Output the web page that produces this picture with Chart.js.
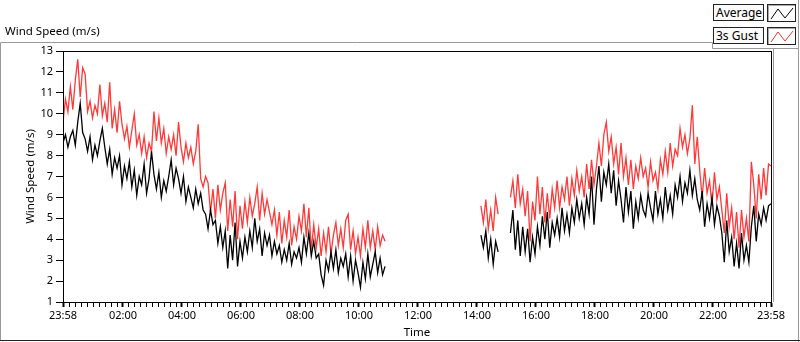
<!DOCTYPE html>
<html>
<head>
<meta charset="utf-8">
<script src="https://cdn.jsdelivr.net/npm/chart.js@4.4.1/dist/chart.umd.min.js"></script>
<style>
  html, body { margin: 0; padding: 0; background: #fff; }
  #wrap { position: relative; width: 800px; height: 342px; overflow: hidden; font-family: 'Noto Sans', 'Open Sans', sans-serif; }
  #c { position: absolute; left: 0; top: 0; }
  .title { position: absolute; left: 5px; top: 24px; font-size: 11.5px; line-height: 14px; color: #000; }
  .lbl { position: absolute; left: 713px; width: 47px; height: 15px; border: 1px solid #222; background: #fbfbfb; font-size: 12px; line-height: 15px; padding-left: 2px; color: #000; box-sizing: content-box; }
  .ico { position: absolute; left: 767px; width: 27px; height: 16px; border: 1px solid #222; background: #fff; box-shadow: inset 1px 1px 0 #aaa; }
  .ico svg { position: absolute; left: 1px; top: 1px; }
</style>
</head>
<body>
<div id="wrap">
  <canvas id="c" width="800" height="342"></canvas>
  <div class="title">Wind Speed (m/s)</div>
  <div class="lbl" style="top:4px;">Average</div>
  <div class="ico" style="top:4px;"><svg width="26" height="15"><polyline points="2,13 9,3 16,12 24,2" fill="none" stroke="#000" stroke-width="1"/></svg></div>
  <div class="lbl" style="top:27px;">3s Gust</div>
  <div class="ico" style="top:27px;"><svg width="26" height="15"><polyline points="2,13 9,3 16,12 24,2" fill="none" stroke="#ff3030" stroke-width="1"/></svg></div>
</div>
<script>
// ---- Data (minutes relative to 00:00, 5-minute samples) ----
const stepMinutes = 5;
const axisMinMinutes = -2;     // 23:58 previous day
const axisMaxMinutes = 1438;   // 23:58

const seg1Start = -2;
const avgSeg1 = [8.6,9.0,8.4,8.9,9.2,8.5, 9.6,10.5,9.1,8.8, 8.2,8.9,7.8,8.5,8.0,8.7, 9.3,8.4, 7.6,8.3,7.1,7.9,
  7.4,8.0,6.6,7.5,6.9,7.7, 6.5,7.3,6.1,7.0,6.6,7.6,6.2,6.9, 8.2,7.1, 6.4,7.2,6.0,6.8,6.3,7.0, 7.8,6.6,7.4,6.9,
  6.2,7.0,5.8,6.5, 6.0,5.5,6.4,5.7,6.2,5.4, 5.2,4.5,5.4,4.7, 4.9,3.8,4.6,3.6,4.4, 2.6,4.2,3.0,4.8, 2.7,3.9,3.1,4.1,
  3.4,4.4,3.6,5.0,3.9,4.5,3.2,4.3,3.7, 4.2,3.2,3.9,3.3, 3.7,2.9,3.5,3.0,3.8,2.8,3.4,3.1,3.6,2.9,
  4.1,3.3,4.3,3.2,3.9,3.1, 3.3,2.3,1.8,3.0, 2.5,3.4,2.6,3.5,2.4,3.1,2.7,3.3,
  2.2,3.2,2.0,3.0,2.4,1.7,2.9,2.1,3.3,2.2,2.8, 3.4,2.4,3.1,2.3,2.7];
const gustSeg1 = [9.6,10.7,10.1, 11.3,10.2,11.6, 12.6, 10.8,12.2,11.9, 10.1,10.6,9.8,10.4,10.0, 11.4, 9.9,10.5,9.6, 11.5,
  9.3,10.2,9.1,10.6,9.5, 8.8,9.4,8.4,9.2,10.0,8.5,9.0, 8.1,8.9,7.9,8.6,8.2,10.1, 8.7,9.8,8.6,9.3,
  8.1,8.9,8.3,9.0,8.0,9.6,8.4, 7.7,8.6,7.9,8.4,7.6,8.2, 9.5, 6.9,6.5,7.0, 6.7,5.3,6.4,5.0,6.6,5.4,6.2,
  6.7,4.4,5.9,4.6, 6.3,4.0,5.6,4.5, 5.8,4.8,6.0,5.1,5.7,6.5,4.9,6.2,5.2,5.9, 5.3,4.7,5.4,
  4.2,5.3,3.8,4.9,4.1,5.4,3.7,4.6,4.0,5.1,4.4, 5.7, 4.1,5.5,3.5,4.7, 3.6,4.5,3.2,4.3,3.4,4.6,3.3,4.2,
  4.8,3.7,4.5,3.6,4.9, 5.2, 3.5,4.4,3.3,4.1,3.2,4.5,3.6, 4.9, 3.6,4.4,3.5,4.6,3.7,4.2,3.9];

const seg2Start = 848;
const avgSeg2 = [4.2,3.6,4.4,3.1,4.0,2.8,3.9,3.4];
const gustSeg2 = [5.6,4.8,5.9,4.5,5.4,4.4,6.0,5.2];

const seg3Start = 908;
const avgSeg3 = [4.3,5.4,3.5,4.9,3.2,4.6, 3.4,4.5,2.9,4.1,3.3,4.6, 3.7,5.1,4.0,5.3,3.6,4.8,4.2, 5.0,4.1,5.5,4.4,5.2,4.3,
  5.5,4.8,5.9,5.0,5.7,4.7, 6.0,5.2,7.0,4.7,6.4, 7.5,5.8,7.2,6.6,7.6, 6.2,7.3,5.6,6.8,5.9,4.8,6.5,
  5.3,6.3,4.5,5.8,5.0,6.1,5.4, 5.1,6.2,5.5,4.9,6.3,5.2,5.9,5.0, 6.5,5.4,6.1,5.2,6.6, 6.0,7.0,5.8,6.7,6.2,
  7.3,6.1,6.9,5.9, 5.4,6.3,4.6,5.7, 5.0,6.0,4.7,5.6,5.1, 4.3,2.9,4.9,3.4,4.1, 2.7,3.8,2.6,4.3,3.0,3.7,2.9,
  4.6,5.6,3.9,5.2, 4.7,5.5,4.9,5.6,5.7];
const gustSeg3 = [6.0,6.8,5.5,7.1,5.7,6.4, 5.1,6.3,3.9,5.8,4.9,7.0, 5.2,6.5,4.8,6.2,5.0,6.4,5.5, 6.8,5.5,6.5,5.9,7.0,5.6,
  6.9,6.1,7.3,6.3,7.0,6.0, 7.6,6.4,7.8,6.6,7.5, 8.6,7.5,9.0,9.6,8.2, 8.9,7.6,8.4,7.1,8.6,7.0,7.9,
  6.6,7.8,6.4,7.5,6.9,7.9,7.0, 7.4,6.5,7.7,6.8,7.2,6.4,7.8,7.1, 8.2,7.2,8.6,7.5,8.3, 8.0,9.3,8.4,9.0,8.1,
  8.8,10.4,7.6,8.9, 7.3,6.0,7.4,6.2, 6.8,5.6,7.2,5.9,6.5, 5.4,4.3,6.2,4.6,5.5, 4.0,5.3,3.6,5.4,4.1,5.0,3.9,
  7.7,6.6,5.0,7.1, 5.9,7.4,6.1,7.6,7.5];

const yTickMin = 1, yTickMax = 13, yTickStep = 1;
const majorTickMinutes = [-2,120,240,360,480,600,720,840,960,1080,1200,1320,1438];
const majorTickLabels = ['23:58','02:00','04:00','06:00','08:00','10:00','12:00','14:00','16:00','18:00','20:00','22:00','23:58'];
const minorTickStepMinutes = 12;

// ---- Build points ----
function segPoints(start, arr) {
  return arr.map((v, i) => ({ x: start + i * stepMinutes, y: v }));
}
function series(segs) {
  const out = [];
  segs.forEach((s, k) => {
    const pts = segPoints(s[0], s[1]);
    out.push(...pts);
    if (k < segs.length - 1) out.push({ x: pts[pts.length - 1].x + 1, y: null });
  });
  return out;
}
const avgData = series([[seg1Start, avgSeg1], [seg2Start, avgSeg2], [seg3Start, avgSeg3]]);
const gustData = series([[seg1Start, gustSeg1], [seg2Start, gustSeg2], [seg3Start, gustSeg3]]);

const labelMap = {};
majorTickMinutes.forEach((m, i) => labelMap[m] = majorTickLabels[i]);

const framePlugin = {
  id: 'frame',
  beforeDraw(chart) {
    const ctx = chart.ctx;
    ctx.save();
    ctx.lineWidth = 1;
    ctx.strokeStyle = '#9a9a9a';
    ctx.beginPath();
    ctx.moveTo(0.5, 341); ctx.lineTo(0.5, 42.5); ctx.lineTo(712.5, 42.5); ctx.lineTo(712.5, 48.5); ctx.lineTo(798.5, 48.5);
    ctx.moveTo(798.5, 0); ctx.lineTo(798.5, 342);
    ctx.moveTo(773.5, 48.5); ctx.lineTo(773.5, 302);
    ctx.stroke();
    ctx.strokeStyle = '#222';
    ctx.beginPath();
    ctx.moveTo(0, 340.5); ctx.lineTo(800, 340.5);
    ctx.stroke();
    ctx.restore();
  },
  afterDraw(chart) {
    const a = chart.chartArea;
    const ctx = chart.ctx;
    ctx.save();
    ctx.strokeStyle = '#000';
    ctx.lineWidth = 1;
    ctx.strokeRect(Math.round(a.left) + 0.5, Math.round(a.top) + 0.5, Math.round(a.right - a.left), Math.round(a.bottom - a.top));
    ctx.restore();
  }
};

Chart.defaults.font.family = "'Noto Sans', 'Open Sans', sans-serif";
Chart.defaults.color = '#000';

new Chart(document.getElementById('c'), {
  type: 'line',
  data: {
    datasets: [
      { label: 'Average', data: avgData, borderColor: '#000000', borderWidth: 1.3, pointRadius: 0, tension: 0, spanGaps: false, order: 0 },
      { label: '3s Gust', data: gustData, borderColor: '#ff3838', borderWidth: 1.3, pointRadius: 0, tension: 0, spanGaps: false, order: 1 }
    ]
  },
  options: {
    responsive: false,
    animation: false,
    events: [],
    layout: { padding: { left: 0, right: 29, top: 51, bottom: 0 } },
    plugins: { legend: { display: false }, tooltip: { enabled: false }, title: { display: false } },
    scales: {
      x: {
        type: 'linear',
        min: axisMinMinutes,
        max: axisMaxMinutes,
        afterFit(scale) { scale.height = 40; },
        afterBuildTicks(scale) {
          const vals = new Set(majorTickMinutes);
          for (let m = minorTickStepMinutes; m < axisMaxMinutes; m += minorTickStepMinutes) vals.add(m);
          scale.ticks = [...vals].sort((a, b) => a - b).map(v => ({ value: v }));
        },
        ticks: {
          autoSkip: false, maxRotation: 0, minRotation: 0, padding: 2,
          font: { size: 11 },
          callback: (v) => (labelMap[v] !== undefined ? labelMap[v] : '')
        },
        grid: {
          drawOnChartArea: false,
          tickLength: 5,
          tickColor: '#000',
          tickWidth: (ctx) => (ctx.tick && labelMap[ctx.tick.value] !== undefined ? 2 : 1)
        },
        border: { display: true, color: '#000' },
        title: { display: true, text: 'Time', font: { size: 11.5 }, padding: { top: 0, bottom: 2 } }
      },
      y: {
        min: yTickMin,
        max: yTickMax,
        afterFit(scale) { scale.width = 63; },
        ticks: { stepSize: yTickStep, padding: 3, font: { size: 11 } },
        grid: { drawOnChartArea: false, tickLength: 7, tickColor: '#000' },
        border: { display: true, color: '#000' },
        title: { display: true, text: 'Wind Speed (m/s)', font: { size: 11.5 }, padding: { top: 24, bottom: 0 } }
      }
    }
  },
  plugins: [framePlugin]
});
</script>
</body>
</html>
